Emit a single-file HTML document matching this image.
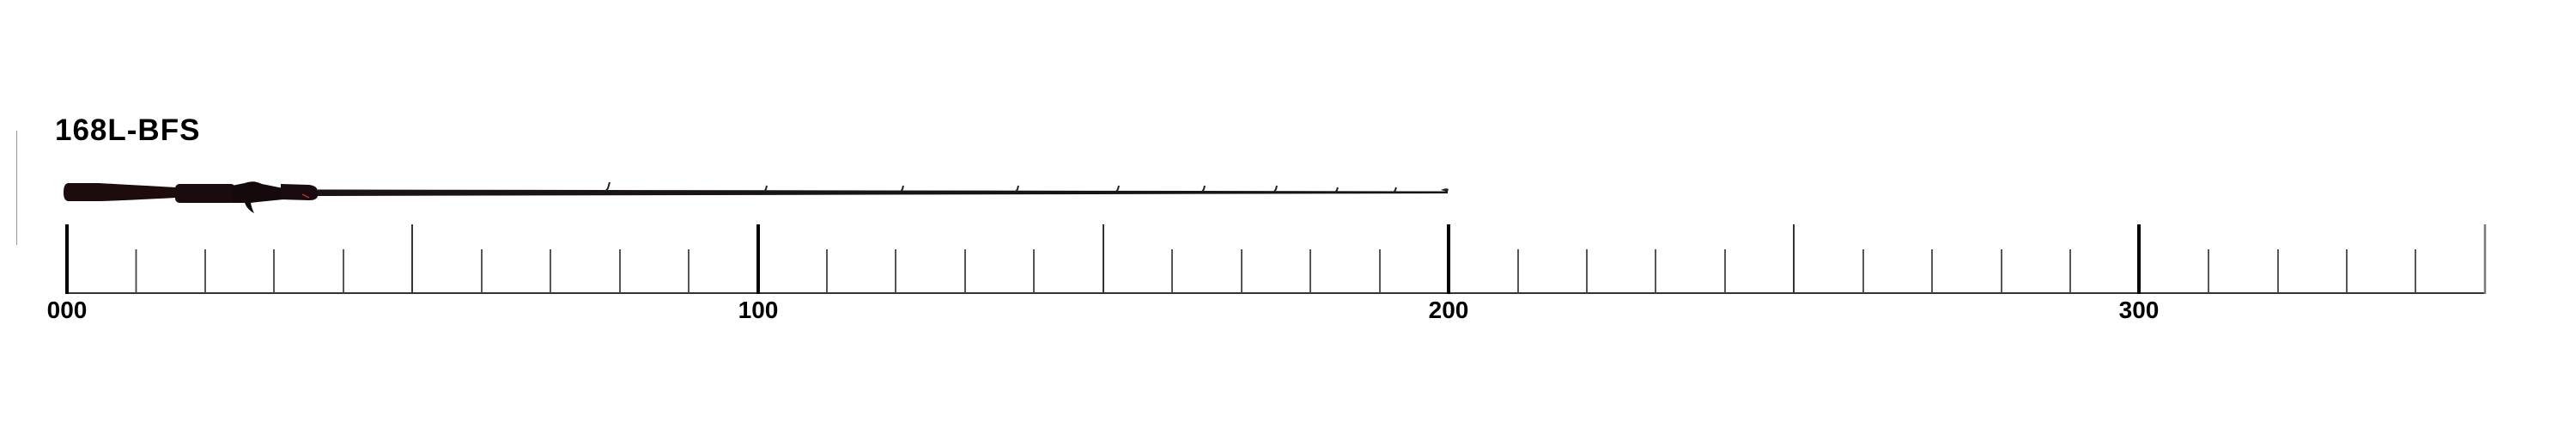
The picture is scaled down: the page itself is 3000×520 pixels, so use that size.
<!DOCTYPE html>
<html><head><meta charset="utf-8"><style>
html,body{margin:0;padding:0;background:#fff;}
svg{display:block}
text{font-family:"Liberation Sans",sans-serif;font-weight:bold;fill:#000}
</style></head><body>
<svg width="3000" height="520" viewBox="0 0 3000 520" xmlns="http://www.w3.org/2000/svg">
<rect width="3000" height="520" fill="#fff"/>
<text x="64" y="163" font-size="35" letter-spacing="1">168L-BFS</text>
<line x1="19.5" y1="152" x2="19.5" y2="285" stroke="#999" stroke-width="1"/>
<!-- rod blank -->
<path d="M370 220.5 L1686 222.5 L1686 225 L370 228 Z" fill="#1a1414"/>
<path d="M1678 221 q6 -3 9 -1 l-1 3 z" fill="#222"/>
<!-- handle -->
<path d="M80 213 L115 213 Q150 215 205 218 L205 230 Q150 233 115 234 L80 234 Q74 234 74 224 Q74 213 80 213 Z" fill="#1c0c0e"/>
<rect x="204" y="214" width="70" height="22" rx="5" fill="#1a0c0e"/>
<path d="M270 216 L285 213 Q295 209 305 214 L330 219 L330 232 L300 235 L292 236 L270 236 Z" fill="#140a0c"/>
<path d="M285 234 L292 236 Q293 242 296 248 Q288 244 285 236 Z" fill="#140a0c"/>
<path d="M327 214 L360 215 Q369 216 370 222 L370 228 Q369 233 360 233 L327 232 Z" fill="#1a0c0e"/>
<path d="M352 226 l8 4" stroke="#c0303a" stroke-width="1.5"/>
<!-- guides -->
<g stroke="#222" stroke-width="2" fill="none">
<path d="M705 223 l3 -4 l2 -7"/>
<path d="M890 223 l2 -3 l1 -4"/>
<path d="M1049 223 l2 -3 l1 -4"/>
<path d="M1183 223 l2 -3 l1 -4"/>
<path d="M1300 223 l2 -3 l1 -4"/>
<path d="M1400 223 l2 -3 l1 -4"/>
<path d="M1484 223 l2 -3 l1 -4"/>
<path d="M1555 224 l2 -3 l1 -3"/>
<path d="M1623 224 l2 -3 l1 -3"/>
</g>
<!-- ruler -->
<line x1="77" y1="341" x2="2894" y2="341" stroke="#333" stroke-width="2"/>
<g id="ticks"></g>
<text x="78" y="370" font-size="28" text-anchor="middle">000</text>
<text x="883" y="370" font-size="28" text-anchor="middle">100</text>
<text x="1687" y="370" font-size="28" text-anchor="middle">200</text>
<text x="2491" y="370" font-size="28" text-anchor="middle">300</text>
<g stroke-linecap="butt">
<line x1="78" y1="261" x2="78" y2="342" stroke="#000" stroke-width="4"/>
<line x1="883" y1="261" x2="883" y2="342" stroke="#000" stroke-width="4"/>
<line x1="1687" y1="261" x2="1687" y2="342" stroke="#000" stroke-width="4"/>
<line x1="2491" y1="261" x2="2491" y2="342" stroke="#000" stroke-width="4"/>
<line x1="480" y1="261" x2="480" y2="341" stroke="#333" stroke-width="2"/>
<line x1="1285" y1="261" x2="1285" y2="341" stroke="#333" stroke-width="2"/>
<line x1="2089" y1="261" x2="2089" y2="341" stroke="#333" stroke-width="2"/>
<line x1="2894" y1="261" x2="2894" y2="342" stroke="#777" stroke-width="2.5"/>
<g stroke="#444" stroke-width="1.8">
<line x1="158.5" y1="290" x2="158.5" y2="341"/><line x1="239" y1="290" x2="239" y2="341"/><line x1="319" y1="290" x2="319" y2="341"/><line x1="400" y1="290" x2="400" y2="341"/>
<line x1="561" y1="290" x2="561" y2="341"/><line x1="641" y1="290" x2="641" y2="341"/><line x1="722" y1="290" x2="722" y2="341"/><line x1="802" y1="290" x2="802" y2="341"/>
<line x1="963" y1="290" x2="963" y2="341"/><line x1="1043" y1="290" x2="1043" y2="341"/><line x1="1124" y1="290" x2="1124" y2="341"/><line x1="1204" y1="290" x2="1204" y2="341"/>
<line x1="1365" y1="290" x2="1365" y2="341"/><line x1="1446" y1="290" x2="1446" y2="341"/><line x1="1526" y1="290" x2="1526" y2="341"/><line x1="1607" y1="290" x2="1607" y2="341"/>
<line x1="1768" y1="290" x2="1768" y2="341"/><line x1="1848" y1="290" x2="1848" y2="341"/><line x1="1928" y1="290" x2="1928" y2="341"/><line x1="2009" y1="290" x2="2009" y2="341"/>
<line x1="2170" y1="290" x2="2170" y2="341"/><line x1="2250" y1="290" x2="2250" y2="341"/><line x1="2331" y1="290" x2="2331" y2="341"/><line x1="2411" y1="290" x2="2411" y2="341"/>
<line x1="2572" y1="290" x2="2572" y2="341"/><line x1="2653" y1="290" x2="2653" y2="341"/><line x1="2733" y1="290" x2="2733" y2="341"/><line x1="2813" y1="290" x2="2813" y2="341"/>
</g>
</g>
</svg>
</body></html>
